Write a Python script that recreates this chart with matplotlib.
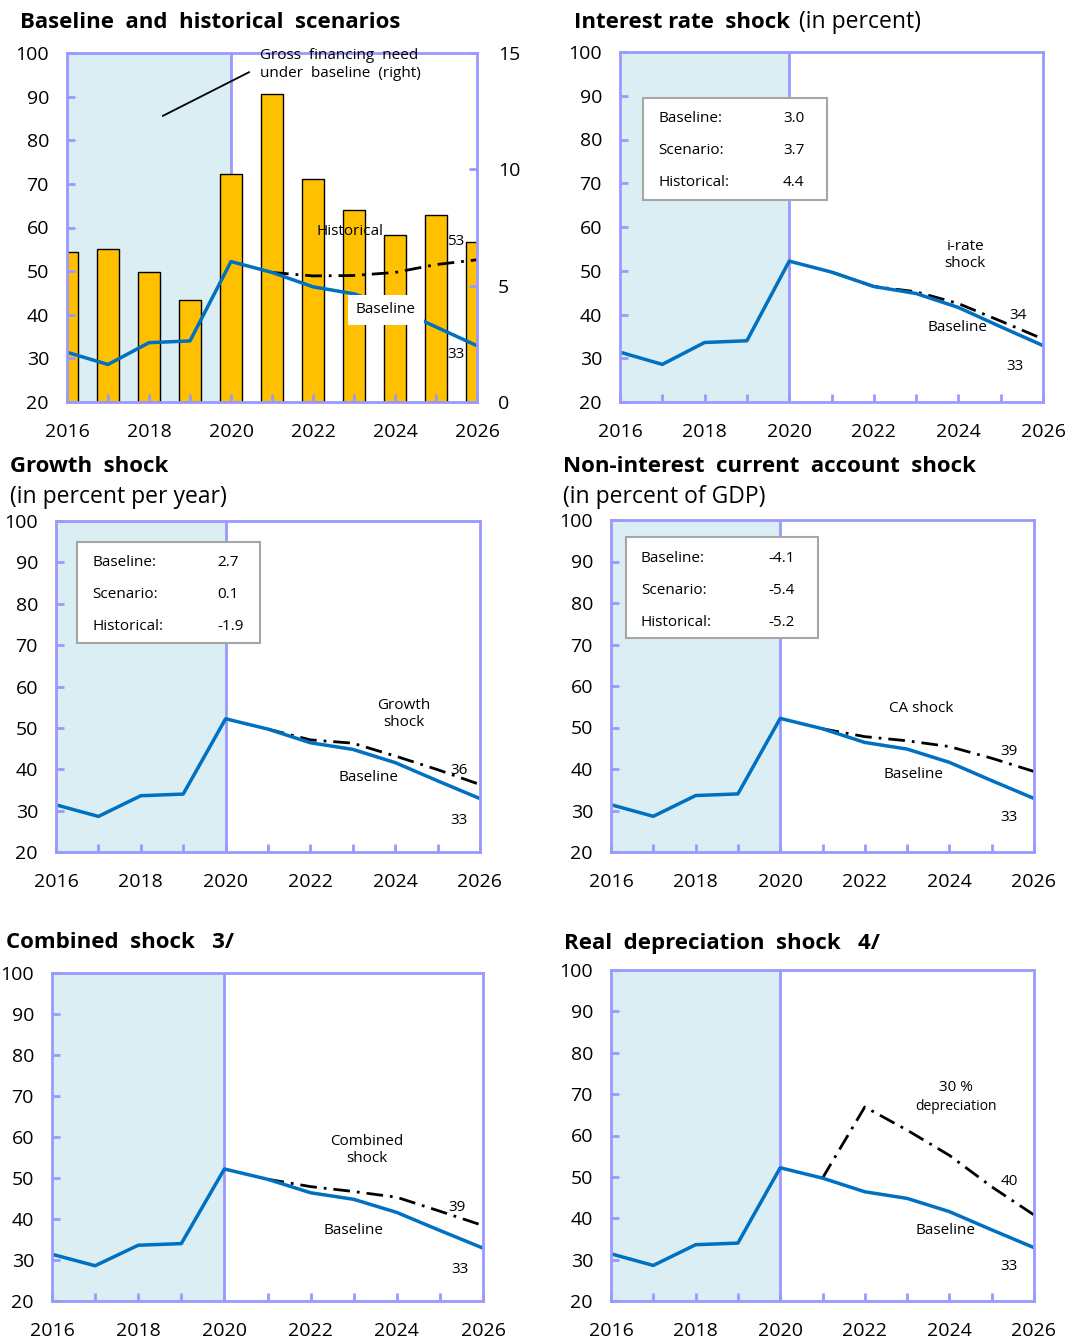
import numpy as np
import matplotlib.pyplot as plt
from matplotlib.patches import Rectangle

plt.rcParams['font.family'] = ['Open Sans', 'DejaVu Sans']

W, H = 1069, 1340
SPINE = '#9999FF'
SHADE = '#DAEEF3'
BLUE = '#0070C0'
BAR = '#FFC000'

# data
years = np.arange(2016, 2027)
baseline = [31.4, 28.6, 33.6, 34.0, 52.2, 49.7, 46.4, 44.8, 41.6, 37.2, 32.9]
gfn_baseline = [6.43, 6.58, 5.57, 4.40, 9.80, 13.22, 9.58, 8.27, 7.16, 8.05, 6.86]
shock_years = np.arange(2021, 2027)
historical = [49.7, 48.9, 49.0, 49.7, 51.5, 52.6]
irate_shock = [49.7, 46.4, 45.2, 42.5, 38.5, 34.4]
growth_shock = [49.7, 47.1, 46.3, 43.2, 39.9, 36.3]
ca_shock = [49.7, 47.8, 46.8, 45.4, 42.6, 39.4]
combined_shock = [49.7, 47.9, 46.7, 45.3, 41.9, 38.4]
depreciation_shock = [49.7, 66.9, 61.3, 55.2, 47.6, 40.8]

box_labels = ['Baseline:', 'Scenario:', 'Historical:']
irate_box = ['3.0', '3.7', '4.4']
growth_box = ['2.7', '0.1', '-1.9']
ca_box = ['-4.1', '-5.4', '-5.2']

TITLE = 16
SUB = 16.5

fig = plt.figure(figsize=(W / 100, H / 100), dpi=100)


def px_axes(l, t, r, b):
    return fig.add_axes([l / W, 1 - b / H, (r - l) / W, (b - t) / H])


def fx(x):
    return x / W


def fy(y):
    return 1 - y / H


def style(ax):
    ax.set_xlim(2016, 2026)
    ax.set_ylim(20, 100)
    ax.axvspan(2016, 2020, color=SHADE, lw=0, zorder=0)
    ax.axvline(2020, color=SPINE, lw=2, zorder=0.5)
    for s in ax.spines.values():
        s.set_color(SPINE)
        s.set_linewidth(2)
        s.set_zorder(5)
    ax.set_xticks(np.arange(2016, 2027, 2))
    ax.set_xticks(years, minor=True)
    ax.set_yticks(np.arange(20, 101, 10))
    ax.tick_params(axis='both', which='both', direction='in', color=SPINE,
                   width=2, length=6, labelsize=14, pad=13)
    ax.tick_params(axis='x', pad=15)
    ax.tick_params(axis='y', right=False)


def scenario(ax, values):
    ax.plot(shock_years, values, color='black', lw=2,
            linestyle=(0, (6, 2.5, 1, 2.5)), zorder=3)
    ax.plot(years, baseline, color=BLUE, lw=2.5, zorder=4)


def info_box(l, t, r, b, label_x, value_x, rows_y, values):
    fig.add_artist(Rectangle((fx(l), fy(b)), fx(r - l), (b - t) / H,
                             transform=fig.transFigure, facecolor='white',
                             edgecolor='#A6A6A6', lw=1.5, zorder=6))
    for lab, val, y in zip(box_labels, values, rows_y):
        fig.text(fx(label_x), fy(y), lab, fontsize=11, va='center', zorder=7)
        fig.text(fx(value_x), fy(y), val, fontsize=11, va='center', zorder=7)


# ---- Baseline and historical scenarios ----
ax1 = px_axes(67, 53, 477, 402)
style(ax1)
ax1r = ax1.twinx()
ax1r.set_ylim(0, 15)
ax1r.set_yticks([0, 5, 10, 15])
ax1r.tick_params(axis='y', direction='in', color=SPINE, width=2, length=6,
                 labelsize=14, pad=15)
for s in ax1r.spines.values():
    s.set_visible(False)
ax1r.bar(years, gfn_baseline, width=0.54, color=BAR, edgecolor='black',
         lw=1, zorder=1)
ax1.set_zorder(ax1r.get_zorder() + 1)
ax1.patch.set_visible(False)
# the shading must sit behind the bars, so draw it on the right axes
ax1r.axvspan(2016, 2020, color=SHADE, lw=0, zorder=0)
ax1r.axvline(2020, color=SPINE, lw=2, zorder=0.5)
ax1.patches[0].set_visible(False)
ax1.lines[0].set_visible(False)
ax1.plot(shock_years, historical, color='black', lw=2,
         linestyle=(0, (6, 2.5, 1, 2.5)), zorder=3)
ax1.plot(years, baseline, color=BLUE, lw=2.5, zorder=4)
ax1.text(2022.9, 59, 'Historical', fontsize=11, ha='center', va='center', zorder=6)
ax1.text(2023.78, 41.1, 'Baseline', fontsize=11, ha='center', va='center', zorder=6,
         bbox=dict(boxstyle='square,pad=0.5', facecolor='white', edgecolor='none'))
ax1.text(2025.49, 56.9, '53', fontsize=11, ha='center', va='center', zorder=6)
ax1.text(2025.49, 30.8, '33', fontsize=11, ha='center', va='center', zorder=6)
ax1.text(2020.71, 101.2, 'Gross  financing  need\nunder  baseline  (right)',
         fontsize=11, ha='left', va='top', linespacing=1.25, zorder=6, clip_on=False)
ax1.plot([2018.34, 2020.44], [85.6, 95.6], color='black', lw=1.3, zorder=6)
fig.text(fx(20), fy(22), 'Baseline  and  historical  scenarios', fontsize=TITLE,
         fontweight='bold', va='center')

# ---- Interest rate shock ----
ax2 = px_axes(620, 52, 1043, 402)
style(ax2)
scenario(ax2, irate_shock)
ax2.text(2024.16, 53.6, 'i-rate\nshock', fontsize=11, ha='center', va='center')
ax2.text(2023.99, 37.1, 'Baseline', fontsize=11, ha='center', va='center')
ax2.text(2025.41, 39.7, '34', fontsize=11, ha='center', va='center', zorder=6)
ax2.text(2025.34, 28.0, '33', fontsize=11, ha='center', va='center')
info_box(643, 98, 827, 200, 658, 783, [119, 150, 182], irate_box)
t = fig.text(fx(574), fy(22), 'Interest rate  shock', fontsize=TITLE,
             fontweight='bold', va='center')
fig.canvas.draw()
bb = t.get_window_extent()
fig.text(bb.x1 / W + 0.008, fy(22), '(in percent)', fontsize=SUB, va='center')

# ---- Growth shock ----
ax3 = px_axes(56, 521, 480, 852)
style(ax3)
scenario(ax3, growth_shock)
ax3.text(2024.21, 53.4, 'Growth\nshock', fontsize=11, ha='center', va='center')
ax3.text(2023.38, 37.9, 'Baseline', fontsize=11, ha='center', va='center')
ax3.text(2025.5, 39.6, '36', fontsize=11, ha='center', va='center', zorder=6)
ax3.text(2025.5, 27.7, '33', fontsize=11, ha='center', va='center')
info_box(77, 542, 260, 643, 92, 217, [563, 594, 627], growth_box)
fig.text(fx(10), fy(467), 'Growth  shock', fontsize=TITLE, fontweight='bold',
         va='center')
fig.text(fx(10), fy(497), '(in percent per year)', fontsize=SUB, va='center')

# ---- Non-interest current account shock ----
ax4 = px_axes(611, 520, 1034, 852)
style(ax4)
scenario(ax4, ca_shock)
ax4.text(2023.34, 54.5, 'CA shock', fontsize=11, ha='center', va='center')
ax4.text(2023.14, 38.6, 'Baseline', fontsize=11, ha='center', va='center')
ax4.text(2025.41, 44.1, '39', fontsize=11, ha='center', va='center', zorder=6)
ax4.text(2025.41, 28.4, '33', fontsize=11, ha='center', va='center')
info_box(626, 537, 818, 638, 641, 768, [558, 590, 622], ca_box)
fig.text(fx(563), fy(467), 'Non-interest  current  account  shock', fontsize=TITLE,
         fontweight='bold', va='center')
fig.text(fx(563), fy(497), '(in percent of GDP)', fontsize=SUB, va='center')

# ---- Combined shock ----
ax5 = px_axes(52, 973, 483, 1301)
style(ax5)
scenario(ax5, combined_shock)
ax5.text(2023.31, 56.8, 'Combined\nshock', fontsize=11, ha='center', va='center')
ax5.text(2023.0, 37.1, 'Baseline', fontsize=11, ha='center', va='center')
ax5.text(2025.4, 42.7, '39', fontsize=11, ha='center', va='center', zorder=6)
ax5.text(2025.47, 27.8, '33', fontsize=11, ha='center', va='center')
fig.text(fx(6), fy(942), 'Combined  shock   3/', fontsize=TITLE, fontweight='bold',
         va='center')

# ---- Real depreciation shock ----
ax6 = px_axes(611, 970, 1034, 1301)
style(ax6)
scenario(ax6, depreciation_shock)
ax6.text(2024.16, 71.7, '30 %', fontsize=11, ha='center', va='center')
ax6.text(2024.16, 66.9, 'depreciation', fontsize=10, ha='center', va='center')
ax6.text(2023.9, 37.0, 'Baseline', fontsize=11, ha='center', va='center')
ax6.text(2025.41, 49.0, '40', fontsize=11, ha='center', va='center', zorder=6)
ax6.text(2025.41, 28.3, '33', fontsize=11, ha='center', va='center')
fig.text(fx(564), fy(943), 'Real  depreciation  shock   4/', fontsize=TITLE,
         fontweight='bold', va='center')

plt.savefig('out.png', dpi=100)
